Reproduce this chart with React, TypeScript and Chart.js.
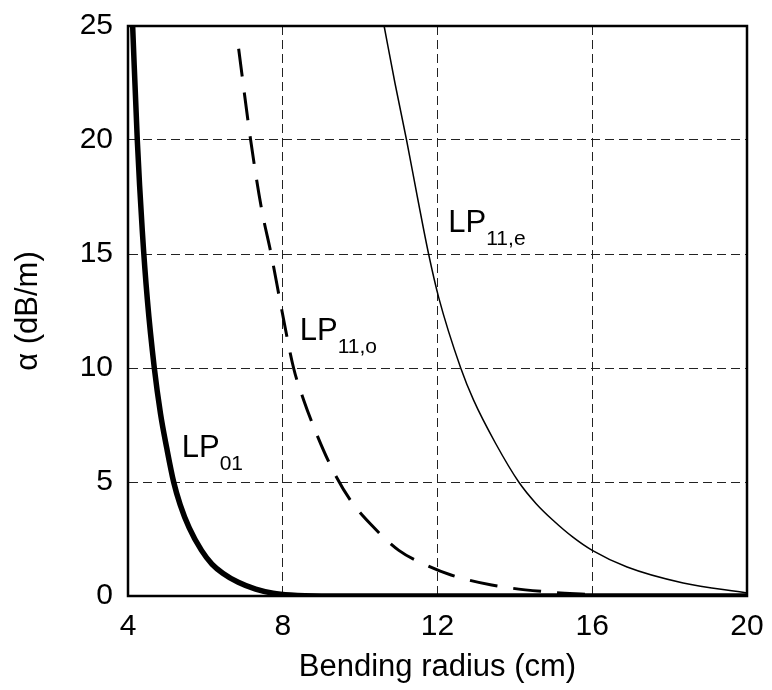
import React, { useEffect, useRef } from "react";
import { Chart, registerables } from "chart.js";

Chart.register(...registerables);

// Axis ticks
const xTickMin = 4;
const xTickMax = 20;
const xTickStep = 4;
const yTickMin = 0;
const yTickMax = 25;
const yTickStep = 5;

// LP01 mode (thick solid)
const lp01X = [4.12, 4.24, 4.37, 4.5, 4.68, 4.84, 5.0, 5.18, 5.35, 5.58, 5.9, 6.17, 6.45, 6.85, 7.3, 7.75, 8.2, 9.0, 20.0];
const lp01Y = [25, 20, 16, 13, 10, 8, 6.5, 5.0, 4.0, 3.0, 2.0, 1.4, 1.0, 0.6, 0.3, 0.12, 0.04, 0.0, 0.0];

// LP11,o mode (dashed)
const lp11oX = [6.86, 7.17, 7.45, 7.7, 7.98, 8.28, 8.54, 8.9, 9.3, 9.75, 10.3, 11.0, 11.7, 12.35, 13.4, 14.7, 16.0];
const lp11oY = [24, 20, 17, 15, 12.5, 10, 8.6, 7.0, 5.5, 4.2, 3.1, 2.0, 1.36, 0.92, 0.48, 0.2, 0.06];

// LP11,e mode (thin solid)
const lp11eX = [10.62, 10.9, 11.2, 11.48, 11.77, 12.03, 12.6, 12.93, 13.5, 14.1, 14.55, 15.0, 15.5, 16.0, 16.9, 18.35, 20.0, 20.65];
const lp11eY = [25, 22.5, 20, 17.5, 15, 13.1, 10, 8.6, 6.7, 5.0, 4.05, 3.3, 2.58, 2.0, 1.27, 0.57, 0.13, -0.05];

// Curve labels (main text, subscript, anchor in data units)
const labelMain = ["LP", "LP", "LP"];
const labelSub = ["01", "11,o", "11,e"];
const labelAtX = [5.39, 8.44, 12.28];
const labelAtY = [6.1, 11.23, 15.96];

const FONT = "'Liberation Sans', Arial, Helvetica, sans-serif";

const toPts = (xs: number[], ys: number[]) => xs.map((x, i) => ({ x, y: ys[i] }));

const framePlugin = {
  id: "frame",
  beforeDatasetsDraw(chart: any) {
    const { ctx, chartArea } = chart;
    ctx.save();
    ctx.strokeStyle = "#000";
    ctx.lineWidth = 2.5;
    ctx.setLineDash([]);
    ctx.strokeRect(chartArea.left, chartArea.top, chartArea.right - chartArea.left, chartArea.bottom - chartArea.top);
    ctx.restore();
  },
};

const labelPlugin = {
  id: "curveLabels",
  afterDatasetsDraw(chart: any) {
    const { ctx } = chart;
    const xs = chart.scales.x;
    const ys = chart.scales.y;
    ctx.save();
    ctx.fillStyle = "#000";
    ctx.textBaseline = "alphabetic";
    ctx.textAlign = "left";
    for (let i = 0; i < labelMain.length; i++) {
      const px = xs.getPixelForValue(labelAtX[i]);
      const py = ys.getPixelForValue(labelAtY[i]);
      ctx.font = `31px ${FONT}`;
      ctx.fillText(labelMain[i], px, py);
      const w = ctx.measureText(labelMain[i]).width;
      ctx.font = `21px ${FONT}`;
      ctx.fillText(labelSub[i], px + w, py + 13);
    }
    ctx.restore();
  },
};

const zeroPad = (scale: any) => {
  scale.paddingTop = 0;
  scale.paddingBottom = 0;
  scale.paddingLeft = 0;
  scale.paddingRight = 0;
};

export default function App() {
  const ref = useRef<HTMLCanvasElement | null>(null);

  useEffect(() => {
    document.body.style.margin = "0";
    if (!ref.current) return;
    const chart = new Chart(ref.current, {
      type: "line",
      data: {
        datasets: [
          {
            label: "LP01",
            data: toPts(lp01X, lp01Y),
            borderColor: "#000",
            borderWidth: 5.5,
            pointRadius: 0,
            cubicInterpolationMode: "monotone",
            fill: false,
          },
          {
            label: "LP11,o",
            data: toPts(lp11oX, lp11oY),
            borderColor: "#000",
            borderWidth: 3,
            borderDash: [28, 16],
            pointRadius: 0,
            cubicInterpolationMode: "monotone",
            fill: false,
          },
          {
            label: "LP11,e",
            data: toPts(lp11eX, lp11eY),
            borderColor: "#000",
            borderWidth: 1.5,
            pointRadius: 0,
            cubicInterpolationMode: "monotone",
            fill: false,
            clip: false,
          },
        ],
      },
      options: {
        animation: false,
        responsive: true,
        maintainAspectRatio: false,
        layout: { padding: { top: 26, right: 25, left: 0, bottom: 0 } },
        plugins: {
          legend: { display: false },
          tooltip: { enabled: false },
        },
        scales: {
          x: {
            type: "linear",
            min: xTickMin,
            max: xTickMax,
            ticks: {
              stepSize: xTickStep,
              color: "#000",
              font: { family: FONT, size: 30 },
              padding: 13,
              maxRotation: 0,
            },
            grid: { color: "#222", lineWidth: 1, drawTicks: false },
            border: { display: true, color: "#000", width: 2, dash: [9, 5] },
            title: {
              display: true,
              text: "Bending radius (cm)",
              color: "#000",
              font: { family: FONT, size: 31 },
              padding: { top: 0, bottom: 4 },
            },
            afterFit: (scale: any) => {
              scale.height = 94;
              zeroPad(scale);
            },
          },
          y: {
            type: "linear",
            min: yTickMin,
            max: yTickMax,
            ticks: {
              stepSize: yTickStep,
              color: "#000",
              font: { family: FONT, size: 30 },
              padding: 15,
            },
            grid: { color: "#222", lineWidth: 1, drawTicks: false },
            border: { display: true, color: "#000", width: 2, dash: [9, 5] },
            title: {
              display: true,
              text: "α (dB/m)",
              color: "#000",
              font: { family: FONT, size: 31 },
              padding: { top: 10, bottom: 0 },
            },
            afterFit: (scale: any) => {
              scale.width = 128;
              zeroPad(scale);
            },
          },
        },
      },
      plugins: [framePlugin, labelPlugin],
    });
    return () => chart.destroy();
  }, []);

  return (
    <div style={{ width: 772, height: 690, position: "relative", background: "#fff" }}>
      <canvas ref={ref} />
    </div>
  );
}
